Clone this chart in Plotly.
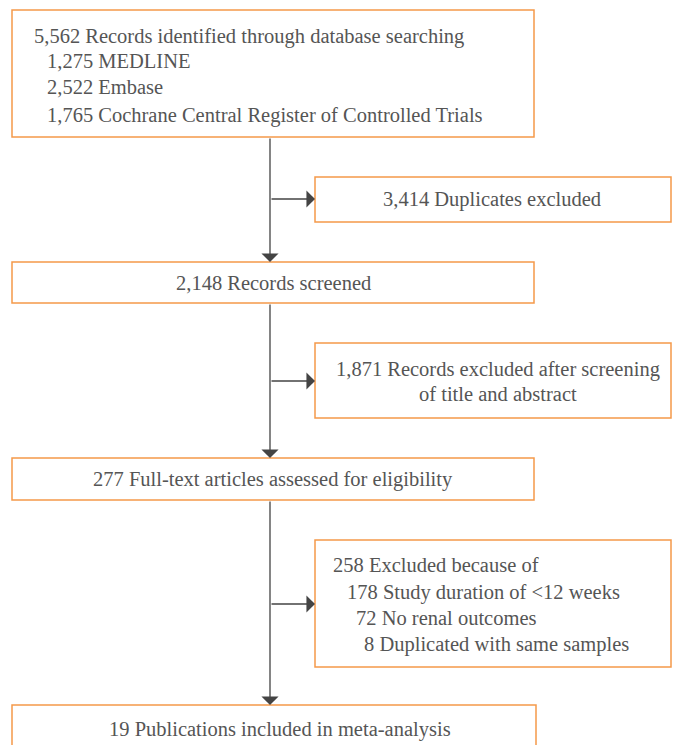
import plotly.graph_objects as go

# ---- content ----
main_box_texts = [
    ["5,562 Records identified through database searching",
     "1,275 MEDLINE",
     "2,522 Embase",
     "1,765 Cochrane Central Register of Controlled Trials"],
    ["2,148 Records screened"],
    ["277 Full-text articles assessed for eligibility"],
    ["19 Publications included in meta-analysis"],
]
side_box_texts = [
    ["3,414 Duplicates excluded"],
    ["1,871 Records excluded after screening", "of title and abstract"],
    ["258 Excluded because of",
     "178 Study duration of <12 weeks",
     "72 No renal outcomes",
     "8 Duplicated with same samples"],
]

# ---- layout geometry (pixels) ----
W, H = 676, 745
main_boxes = [(12, 10, 534, 137), (12, 262, 534, 303), (12, 458, 534, 500), (12, 705, 536, 760)]
side_boxes = [(315, 177, 671, 222), (315, 343, 671, 418), (315, 540, 671, 667)]
spine_x = 270
branch_y = [199, 381, 604]

BORDER = "#F5994A"
TEXT = "#555555"
LINE = "#444444"
FONT = "Liberation Serif, Times New Roman, serif"
FS = 20.5

fig = go.Figure()
shapes = []
annotations = []

for (x0, y0, x1, y1) in main_boxes + side_boxes:
    shapes.append(dict(type="rect", x0=x0, y0=y0, x1=x1, y1=y1, xref="x", yref="y",
                       line=dict(color=BORDER, width=1.5), fillcolor="white", layer="below"))

def txt(x, y, s, anchor="center"):
    annotations.append(dict(x=x, y=y, text=s.replace("<", "&lt;"), xref="x", yref="y", showarrow=False,
                            xanchor=anchor, yanchor="middle",
                            font=dict(family=FONT, size=FS, color=TEXT)))

# main box 1 lines
b1 = main_box_texts[0]
txt(32, 36, b1[0], "left")
for s, y in zip(b1[1:], [61, 87, 115]):
    txt(45, y, s, "left")
txt(273, 283, main_box_texts[1][0])
txt(273, 479, main_box_texts[2][0])
txt(280, 729, main_box_texts[3][0])

# side boxes
txt(492, 199, side_box_texts[0][0])
txt(498, 369, side_box_texts[1][0])
txt(498, 394, side_box_texts[1][1])
for s, x, y in zip(side_box_texts[2], [331, 345, 354, 362], [565, 592, 618, 644]):
    txt(x, y, s, "left")

def arrow(x0, y0, x1, y1):
    annotations.append(dict(x=x1, y=y1, ax=x0, ay=y0, xref="x", yref="y", axref="x", ayref="y",
                            showarrow=True, arrowhead=1, arrowsize=2.2, arrowwidth=1.3,
                            arrowcolor=LINE, text=""))

# vertical spine arrows
for (a, b) in [(main_boxes[0][3], main_boxes[1][1]), (main_boxes[1][3], main_boxes[2][1]),
               (main_boxes[2][3], main_boxes[3][1])]:
    arrow(spine_x, a, spine_x, b)
# branch arrows
for y, sb in zip(branch_y, side_boxes):
    arrow(spine_x, y, sb[0], y)

fig.update_layout(
    width=W, height=H, margin=dict(l=0, r=0, t=0, b=0),
    paper_bgcolor="white", plot_bgcolor="white",
    xaxis=dict(range=[0, W], visible=False, fixedrange=True),
    yaxis=dict(range=[H, 0], visible=False, fixedrange=True),
    shapes=shapes, annotations=annotations, showlegend=False,
)
fig.write_html("out.html", config={"displayModeBar": False},
               post_script="document.body.style.margin='0';document.body.style.overflow='hidden';")
